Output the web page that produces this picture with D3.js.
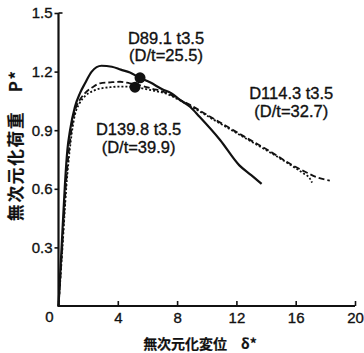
<!DOCTYPE html>
<html>
<head>
<meta charset="utf-8">
<script src="https://cdn.jsdelivr.net/npm/d3@7"></script>
<style>
  html, body { margin: 0; padding: 0; background: #fff; }
  svg { display: block; }
  text { font-family: "Liberation Sans", Arial, sans-serif; fill: #111; stroke: #111; stroke-width: 0.35px; }
  .cjk { font-family: "Noto Sans CJK JP", "Noto Sans CJK SC", sans-serif; font-weight: 700; stroke-width: 0.2px; }
</style>
</head>
<body>
<svg id="chart" width="364" height="353"></svg>
<script>
// Non-dimensional load P* versus non-dimensional displacement δ* for three tubes
const xTicks = [4, 8, 12, 16, 20];
const yTicks = [0.3, 0.6, 0.9, 1.2, 1.5];
const yTickLabels = ["0.3", "0.6", "0.9", "1.2", "1.5"];

// D89.1 t3.5 (D/t=25.5) — solid
const seriesA = [
  [0, 0], [0.21, 0.30], [0.44, 0.63], [0.6, 0.80], [0.78, 0.90], [1.11, 1.02],
  [1.45, 1.09], [1.79, 1.14], [2.24, 1.20], [2.9, 1.23], [3.6, 1.225], [4.2, 1.21],
  [4.82, 1.195], [5.5, 1.168], [6.17, 1.145], [7.0, 1.11], [7.6, 1.09], [8.2, 1.055],
  [8.87, 1.02], [9.5, 0.97], [10.9, 0.85], [12.2, 0.72], [13.0, 0.67], [13.7, 0.625]
];
// D114.3 t3.5 (D/t=32.7) — dashed
const seriesB = [
  [0, 0], [0.25, 0.30], [0.5, 0.62], [0.8, 0.86], [1.11, 1.00], [1.4, 1.05],
  [1.79, 1.09], [2.3, 1.12], [2.8, 1.14], [3.5, 1.145], [4.15, 1.148], [4.8, 1.14],
  [5.5, 1.13], [6.2, 1.115], [7.5, 1.085], [8.2, 1.055], [8.87, 1.03], [9.54, 1.0],
  [11.0, 0.935], [12.7, 0.86], [14.3, 0.79], [15.8, 0.72], [16.7, 0.685],
  [17.4, 0.66], [18.3, 0.642]
];
// D139.8 t3.5 (D/t=39.9) — dotted
const seriesC = [
  [0, 0], [0.27, 0.30], [0.52, 0.60], [0.82, 0.84], [1.11, 0.98], [1.4, 1.035],
  [1.79, 1.075], [2.3, 1.10], [2.8, 1.113], [3.5, 1.12], [4.03, 1.123], [4.6, 1.123],
  [5.16, 1.12], [6.17, 1.106], [7.5, 1.08], [8.2, 1.052], [8.87, 1.025], [9.54, 0.995],
  [11.0, 0.93], [12.7, 0.855], [14.3, 0.785], [15.8, 0.715], [16.5, 0.68],
  [16.96, 0.652], [17.1, 0.632]
];
// Peak-load markers
const peaks = [[5.5, 1.168], [5.16, 1.12]];

const labelLines = [
  { text: "D89.1 t3.5", x: 5.5, y: 1.30, dx: 26, dy: -8 },
  { text: "(D/t=25.5)", x: 5.5, y: 1.30, dx: 26, dy: 9 },
  { text: "D114.3 t3.5", x: 15.7, y: 1.06, dx: 0, dy: 0 },
  { text: "(D/t=32.7)", x: 15.7, y: 1.06, dx: 0, dy: 18 },
  { text: "D139.8 t3.5", x: 5.4, y: 0.875, dx: 0, dy: 0 },
  { text: "(D/t=39.9)", x: 5.4, y: 0.875, dx: 0, dy: 18 }
];

const svg = d3.select("#chart");
const x = d3.scaleLinear().domain([0, 20]).range([58.5, 355]);
const y = d3.scaleLinear().domain([0, 1.5]).range([306, 13]);

// Axes
const xAxis = svg.append("g").attr("transform", `translate(0,${y(0)})`)
  .call(d3.axisBottom(x).tickValues(xTicks).tickFormat(d3.format("d"))
    .tickSizeInner(-5).tickSizeOuter(0).tickPadding(6));
xAxis.select(".domain").remove();
xAxis.selectAll("line").attr("stroke", "#111").attr("stroke-width", 1.6);
xAxis.selectAll("text").attr("font-size", 15).attr("fill", "#111");

const yAxis = svg.append("g").attr("transform", `translate(${x(0)},0)`)
  .call(d3.axisLeft(y).tickValues(yTicks).tickFormat((d, i) => yTickLabels[i])
    .tickSizeInner(4).tickSizeOuter(0).tickPadding(2));
yAxis.select(".domain").remove();
yAxis.selectAll("line").attr("stroke", "#111").attr("stroke-width", 1.6);
yAxis.selectAll("text").attr("font-size", 15).attr("fill", "#111");

// Axis frame lines
svg.append("line").attr("x1", x(0)).attr("x2", x(20)).attr("y1", y(0)).attr("y2", y(0))
  .attr("stroke", "#111").attr("stroke-width", 2.2);
svg.append("line").attr("x1", x(0)).attr("x2", x(0)).attr("y1", y(0) + 1).attr("y2", y(1.5))
  .attr("stroke", "#111").attr("stroke-width", 2.2);
svg.append("line").attr("x1", x(0)).attr("x2", x(0) + 4).attr("y1", y(1.5)).attr("y2", y(1.5))
  .attr("stroke", "#111").attr("stroke-width", 1.6);

// Shared origin label
svg.append("text").attr("x", x(0) - 9).attr("y", y(0) + 16)
  .attr("text-anchor", "middle").attr("font-size", 15).text("0");

// Axis titles
svg.append("text").attr("class", "cjk")
  .attr("transform", "translate(22,146) rotate(-90)")
  .attr("text-anchor", "middle").attr("font-size", 16.5)
  .attr("textLength", 150).attr("lengthAdjust", "spacing")
  .text("無次元化荷重\u3000P*");
svg.append("text").attr("class", "cjk")
  .attr("x", 200).attr("y", 349).attr("text-anchor", "middle").attr("font-size", 14)
  .text("無次元化変位\u3000δ*");

// Curves
const line = d3.line().x(d => x(d[0])).y(d => y(d[1])).curve(d3.curveMonotoneX);
svg.append("path").datum(seriesC).attr("d", line).attr("fill", "none")
  .attr("stroke", "#111").attr("stroke-width", 1.8).attr("stroke-dasharray", "2,2");
svg.append("path").datum(seriesB).attr("d", line).attr("fill", "none")
  .attr("stroke", "#111").attr("stroke-width", 1.8).attr("stroke-dasharray", "6,3");
svg.append("path").datum(seriesA).attr("d", line).attr("fill", "none")
  .attr("stroke", "#111").attr("stroke-width", 2.2);

// Peak markers
svg.selectAll("circle.peak").data(peaks).enter().append("circle")
  .attr("class", "peak").attr("cx", d => x(d[0])).attr("cy", d => y(d[1]))
  .attr("r", 5.5).attr("fill", "#111");

// Annotations
svg.selectAll("text.note").data(labelLines).enter().append("text")
  .attr("class", "note").attr("x", d => x(d.x) + d.dx).attr("y", d => y(d.y) + d.dy)
  .attr("text-anchor", "middle").attr("font-size", 16.5).text(d => d.text);
</script>
</body>
</html>
